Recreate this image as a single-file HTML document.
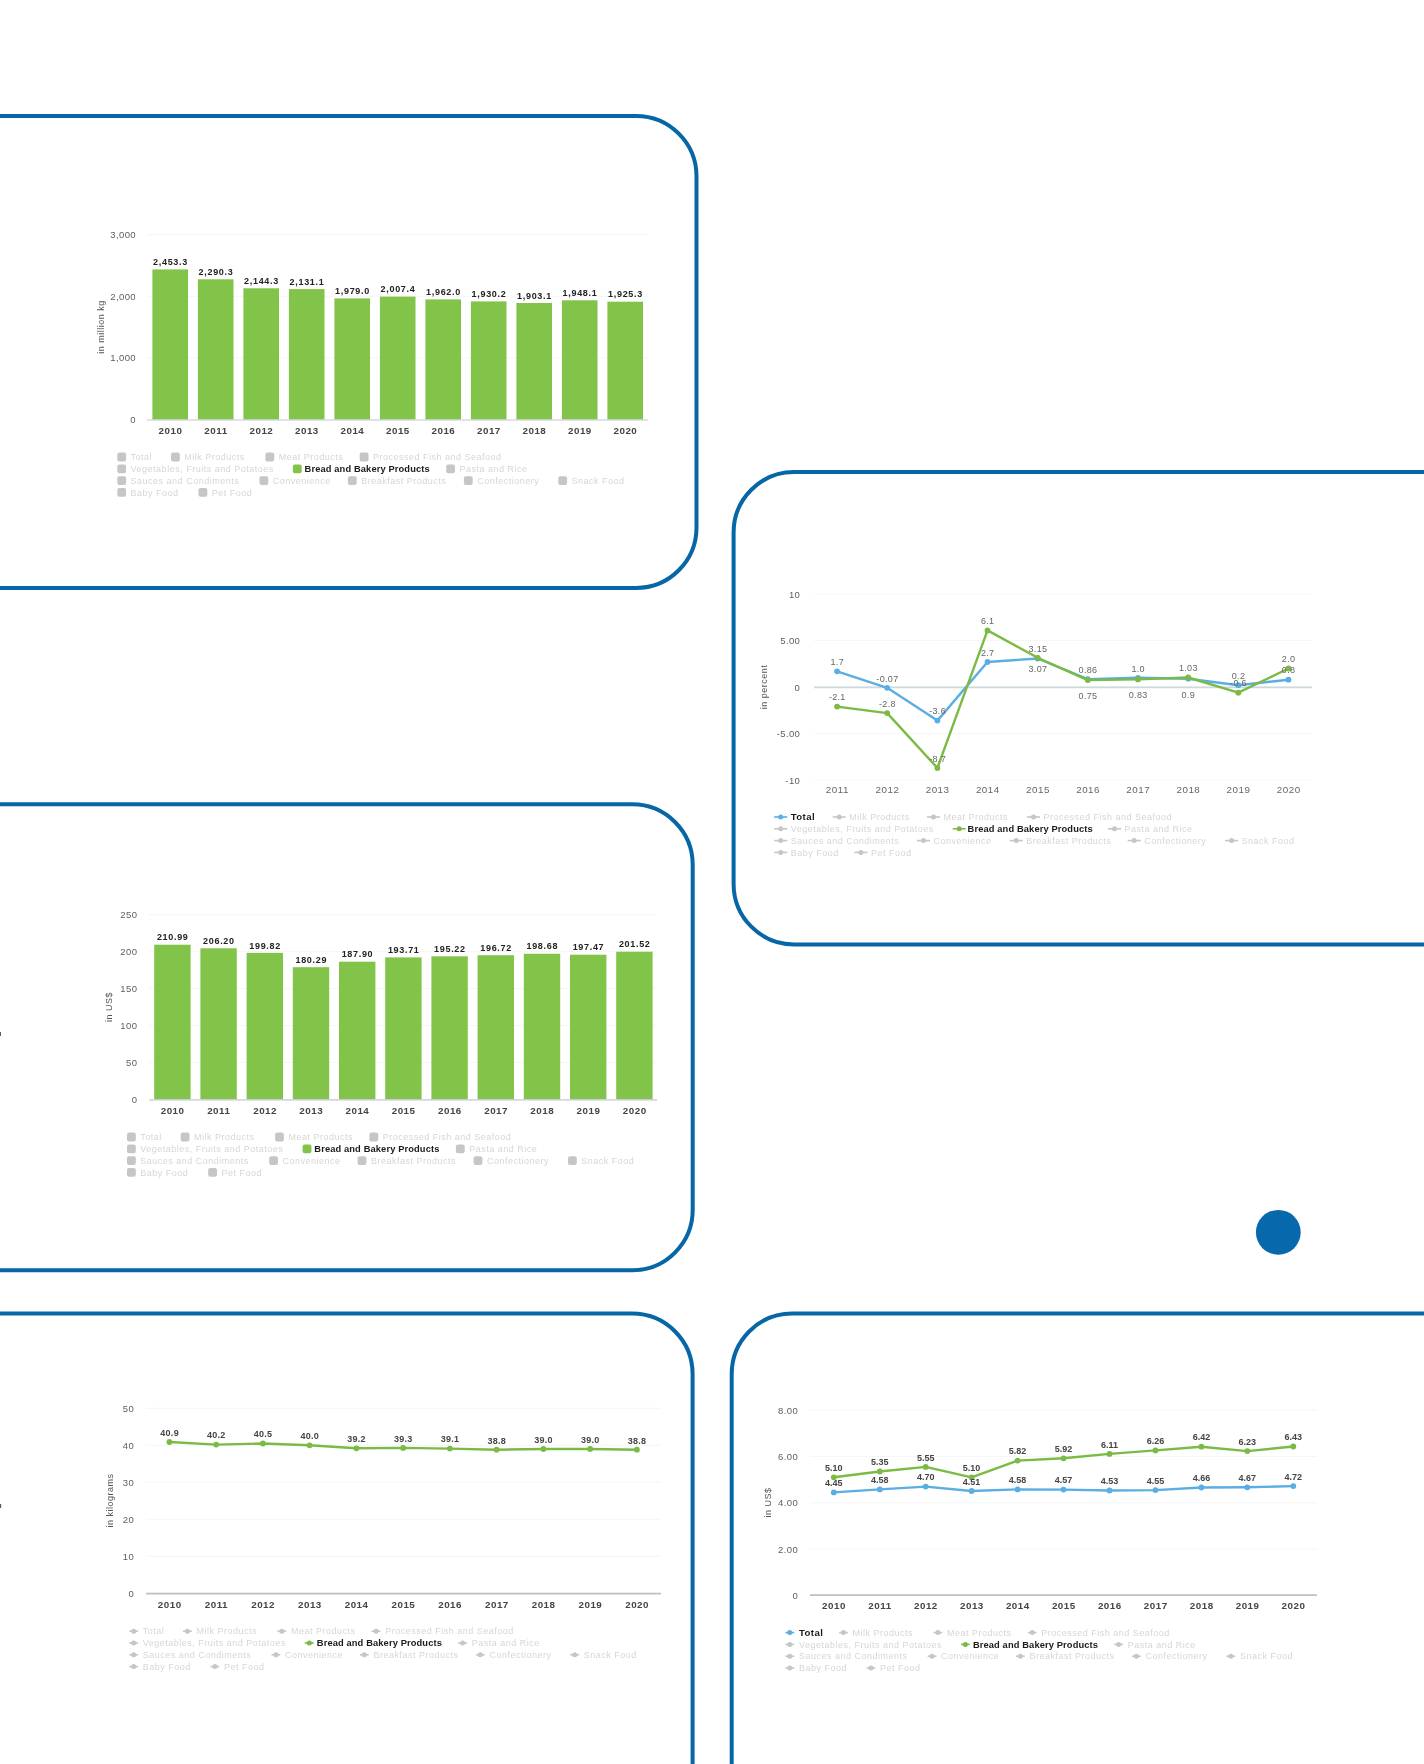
<!DOCTYPE html>
<html lang="en">
<head>
<meta charset="utf-8">
<title>Bread and Bakery Products – market charts</title>
<style>
html,body{margin:0;padding:0;background:#fff;}
body{width:1424px;height:1764px;overflow:hidden;}
svg{display:block;font-family:"Liberation Sans", Arial, sans-serif;}
</style>
</head>
<body>
<svg width="1424" height="1764" viewBox="0 0 1424 1764">
<defs><filter id="soft" x="-2%" y="-2%" width="104%" height="104%"><feGaussianBlur stdDeviation="0.6"/></filter></defs>
<rect width="1424" height="1764" fill="#ffffff"/>
<g id="frames">
<rect x="-200" y="115.9" width="896.5" height="472.1" rx="60.5" ry="60.5" fill="none" stroke="#0767A6" stroke-width="4.0"/>
<rect x="733.6" y="472.0" width="966.4" height="472.4" rx="60.5" ry="60.5" fill="none" stroke="#0767A6" stroke-width="4.0"/>
<rect x="-200" y="804.3" width="892.7" height="466.0" rx="60.5" ry="60.5" fill="none" stroke="#0767A6" stroke-width="4.0"/>
<rect x="-200" y="1313.5" width="892.6" height="686.5" rx="60.5" ry="60.5" fill="none" stroke="#0767A6" stroke-width="4.0"/>
<rect x="731.7" y="1313.5" width="968.3" height="686.5" rx="60.5" ry="60.5" fill="none" stroke="#0767A6" stroke-width="4.0"/>
<circle cx="1278.3" cy="1232.3" r="22.4" fill="#0768AC"/>
<rect x="0" y="1032" width="1" height="4" fill="#4f636b"/>
<rect x="0" y="1504" width="1.2" height="4" fill="#4f636b"/>
</g>
<g class="bar-chart" filter="url(#soft)">
<text x="136.0" y="422.9" font-size="9.5" fill="#5e5e5e" font-weight="normal" text-anchor="end" letter-spacing="0.4">0</text>
<line x1="147" y1="357.9" x2="648" y2="357.9" stroke="#f5f5f5" stroke-width="1"/>
<text x="136.0" y="361.3" font-size="9.5" fill="#5e5e5e" font-weight="normal" text-anchor="end" letter-spacing="0.4">1,000</text>
<line x1="147" y1="296.3" x2="648" y2="296.3" stroke="#f5f5f5" stroke-width="1"/>
<text x="136.0" y="299.7" font-size="9.5" fill="#5e5e5e" font-weight="normal" text-anchor="end" letter-spacing="0.4">2,000</text>
<line x1="147" y1="234.7" x2="648" y2="234.7" stroke="#f5f5f5" stroke-width="1"/>
<text x="136.0" y="238.1" font-size="9.5" fill="#5e5e5e" font-weight="normal" text-anchor="end" letter-spacing="0.4">3,000</text>
<text transform="translate(103.5 327.0) rotate(-90)" font-size="9" fill="#555" text-anchor="middle" letter-spacing="0.5">in million kg</text>
<rect x="152.4" y="269.4" width="35.6" height="150.1" fill="#82C448"/>
<text x="170.5" y="264.9" font-size="9" fill="#222" font-weight="bold" text-anchor="middle" letter-spacing="0.68">2,453.3</text>
<text x="170.5" y="434.1" font-size="9.8" fill="#444" font-weight="bold" text-anchor="middle" letter-spacing="0.5">2010</text>
<rect x="197.9" y="279.3" width="35.6" height="140.2" fill="#82C448"/>
<text x="216.0" y="274.9" font-size="9" fill="#222" font-weight="bold" text-anchor="middle" letter-spacing="0.68">2,290.3</text>
<text x="216.0" y="434.1" font-size="9.8" fill="#444" font-weight="bold" text-anchor="middle" letter-spacing="0.5">2011</text>
<rect x="243.4" y="288.3" width="35.6" height="131.2" fill="#82C448"/>
<text x="261.5" y="283.8" font-size="9" fill="#222" font-weight="bold" text-anchor="middle" letter-spacing="0.68">2,144.3</text>
<text x="261.4" y="434.1" font-size="9.8" fill="#444" font-weight="bold" text-anchor="middle" letter-spacing="0.5">2012</text>
<rect x="288.9" y="289.1" width="35.6" height="130.4" fill="#82C448"/>
<text x="307.0" y="284.6" font-size="9" fill="#222" font-weight="bold" text-anchor="middle" letter-spacing="0.68">2,131.1</text>
<text x="306.9" y="434.1" font-size="9.8" fill="#444" font-weight="bold" text-anchor="middle" letter-spacing="0.5">2013</text>
<rect x="334.4" y="298.4" width="35.6" height="121.1" fill="#82C448"/>
<text x="352.5" y="293.9" font-size="9" fill="#222" font-weight="bold" text-anchor="middle" letter-spacing="0.68">1,979.0</text>
<text x="352.4" y="434.1" font-size="9.8" fill="#444" font-weight="bold" text-anchor="middle" letter-spacing="0.5">2014</text>
<rect x="379.9" y="296.6" width="35.6" height="122.9" fill="#82C448"/>
<text x="398.0" y="292.2" font-size="9" fill="#222" font-weight="bold" text-anchor="middle" letter-spacing="0.68">2,007.4</text>
<text x="397.9" y="434.1" font-size="9.8" fill="#444" font-weight="bold" text-anchor="middle" letter-spacing="0.5">2015</text>
<rect x="425.4" y="299.4" width="35.6" height="120.1" fill="#82C448"/>
<text x="443.5" y="294.9" font-size="9" fill="#222" font-weight="bold" text-anchor="middle" letter-spacing="0.68">1,962.0</text>
<text x="443.4" y="434.1" font-size="9.8" fill="#444" font-weight="bold" text-anchor="middle" letter-spacing="0.5">2016</text>
<rect x="470.9" y="301.4" width="35.6" height="118.1" fill="#82C448"/>
<text x="489.0" y="296.9" font-size="9" fill="#222" font-weight="bold" text-anchor="middle" letter-spacing="0.68">1,930.2</text>
<text x="488.9" y="434.1" font-size="9.8" fill="#444" font-weight="bold" text-anchor="middle" letter-spacing="0.5">2017</text>
<rect x="516.4" y="303.0" width="35.6" height="116.5" fill="#82C448"/>
<text x="534.5" y="298.6" font-size="9" fill="#222" font-weight="bold" text-anchor="middle" letter-spacing="0.68">1,903.1</text>
<text x="534.4" y="434.1" font-size="9.8" fill="#444" font-weight="bold" text-anchor="middle" letter-spacing="0.5">2018</text>
<rect x="561.9" y="300.3" width="35.6" height="119.2" fill="#82C448"/>
<text x="580.0" y="295.8" font-size="9" fill="#222" font-weight="bold" text-anchor="middle" letter-spacing="0.68">1,948.1</text>
<text x="579.9" y="434.1" font-size="9.8" fill="#444" font-weight="bold" text-anchor="middle" letter-spacing="0.5">2019</text>
<rect x="607.4" y="301.7" width="35.6" height="117.8" fill="#82C448"/>
<text x="625.5" y="297.2" font-size="9" fill="#222" font-weight="bold" text-anchor="middle" letter-spacing="0.68">1,925.3</text>
<text x="625.4" y="434.1" font-size="9.8" fill="#444" font-weight="bold" text-anchor="middle" letter-spacing="0.5">2020</text>
<line x1="147" y1="420.0" x2="648" y2="420.0" stroke="#c4c6d4" stroke-width="1.2"/>
<g class="legend">
<rect x="117.3" y="452.6" width="8.8" height="8.8" rx="2" fill="#c6c6c6"/>
<text x="130.6" y="460.2" font-size="9" fill="#d6d6d6" font-weight="normal" text-anchor="start" letter-spacing="0.5">Total</text>
<rect x="171.0" y="452.6" width="8.8" height="8.8" rx="2" fill="#c6c6c6"/>
<text x="184.3" y="460.2" font-size="9" fill="#d6d6d6" font-weight="normal" text-anchor="start" letter-spacing="0.5">Milk Products</text>
<rect x="265.4" y="452.6" width="8.8" height="8.8" rx="2" fill="#c6c6c6"/>
<text x="278.7" y="460.2" font-size="9" fill="#d6d6d6" font-weight="normal" text-anchor="start" letter-spacing="0.5">Meat Products</text>
<rect x="359.7" y="452.6" width="8.8" height="8.8" rx="2" fill="#c6c6c6"/>
<text x="373.0" y="460.2" font-size="9" fill="#d6d6d6" font-weight="normal" text-anchor="start" letter-spacing="0.5">Processed Fish and Seafood</text>
<rect x="117.3" y="464.4" width="8.8" height="8.8" rx="2" fill="#c6c6c6"/>
<text x="130.6" y="472.0" font-size="9" fill="#d6d6d6" font-weight="normal" text-anchor="start" letter-spacing="0.5">Vegetables, Fruits and Potatoes</text>
<rect x="292.9" y="464.4" width="8.8" height="8.8" rx="2" fill="#82C448"/>
<text x="304.6" y="472.1" font-size="9.3" fill="#1a1a1a" font-weight="bold" text-anchor="start" letter-spacing="0.13">Bread and Bakery Products</text>
<rect x="446.2" y="464.4" width="8.8" height="8.8" rx="2" fill="#c6c6c6"/>
<text x="459.5" y="472.0" font-size="9" fill="#d6d6d6" font-weight="normal" text-anchor="start" letter-spacing="0.5">Pasta and Rice</text>
<rect x="117.3" y="476.2" width="8.8" height="8.8" rx="2" fill="#c6c6c6"/>
<text x="130.6" y="483.8" font-size="9" fill="#d6d6d6" font-weight="normal" text-anchor="start" letter-spacing="0.5">Sauces and Condiments</text>
<rect x="259.5" y="476.2" width="8.8" height="8.8" rx="2" fill="#c6c6c6"/>
<text x="272.8" y="483.8" font-size="9" fill="#d6d6d6" font-weight="normal" text-anchor="start" letter-spacing="0.5">Convenience</text>
<rect x="347.9" y="476.2" width="8.8" height="8.8" rx="2" fill="#c6c6c6"/>
<text x="361.2" y="483.8" font-size="9" fill="#d6d6d6" font-weight="normal" text-anchor="start" letter-spacing="0.5">Breakfast Products</text>
<rect x="463.9" y="476.2" width="8.8" height="8.8" rx="2" fill="#c6c6c6"/>
<text x="477.2" y="483.8" font-size="9" fill="#d6d6d6" font-weight="normal" text-anchor="start" letter-spacing="0.5">Confectionery</text>
<rect x="558.3" y="476.2" width="8.8" height="8.8" rx="2" fill="#c6c6c6"/>
<text x="571.6" y="483.8" font-size="9" fill="#d6d6d6" font-weight="normal" text-anchor="start" letter-spacing="0.5">Snack Food</text>
<rect x="117.3" y="488.0" width="8.8" height="8.8" rx="2" fill="#c6c6c6"/>
<text x="130.6" y="495.6" font-size="9" fill="#d6d6d6" font-weight="normal" text-anchor="start" letter-spacing="0.5">Baby Food</text>
<rect x="198.5" y="488.0" width="8.8" height="8.8" rx="2" fill="#c6c6c6"/>
<text x="211.8" y="495.6" font-size="9" fill="#d6d6d6" font-weight="normal" text-anchor="start" letter-spacing="0.5">Pet Food</text>
</g>
</g>
<g class="bar-chart" filter="url(#soft)">
<text x="137.4" y="1102.7" font-size="9.5" fill="#5e5e5e" font-weight="normal" text-anchor="end" letter-spacing="0.4">0</text>
<line x1="149" y1="1062.4" x2="657" y2="1062.4" stroke="#f5f5f5" stroke-width="1"/>
<text x="137.4" y="1065.8" font-size="9.5" fill="#5e5e5e" font-weight="normal" text-anchor="end" letter-spacing="0.4">50</text>
<line x1="149" y1="1025.5" x2="657" y2="1025.5" stroke="#f5f5f5" stroke-width="1"/>
<text x="137.4" y="1028.9" font-size="9.5" fill="#5e5e5e" font-weight="normal" text-anchor="end" letter-spacing="0.4">100</text>
<line x1="149" y1="988.6" x2="657" y2="988.6" stroke="#f5f5f5" stroke-width="1"/>
<text x="137.4" y="992.0" font-size="9.5" fill="#5e5e5e" font-weight="normal" text-anchor="end" letter-spacing="0.4">150</text>
<line x1="149" y1="951.7" x2="657" y2="951.7" stroke="#f5f5f5" stroke-width="1"/>
<text x="137.4" y="955.1" font-size="9.5" fill="#5e5e5e" font-weight="normal" text-anchor="end" letter-spacing="0.4">200</text>
<line x1="149" y1="914.8" x2="657" y2="914.8" stroke="#f5f5f5" stroke-width="1"/>
<text x="137.4" y="918.2" font-size="9.5" fill="#5e5e5e" font-weight="normal" text-anchor="end" letter-spacing="0.4">250</text>
<text transform="translate(111.5 1007.0) rotate(-90)" font-size="9" fill="#555" text-anchor="middle" letter-spacing="0.5">in US$</text>
<rect x="154.2" y="944.7" width="36.4" height="154.6" fill="#82C448"/>
<text x="172.7" y="940.3" font-size="9" fill="#222" font-weight="bold" text-anchor="middle" letter-spacing="0.68">210.99</text>
<text x="172.6" y="1113.6" font-size="9.8" fill="#444" font-weight="bold" text-anchor="middle" letter-spacing="0.5">2010</text>
<rect x="200.4" y="948.3" width="36.4" height="151.0" fill="#82C448"/>
<text x="218.9" y="943.8" font-size="9" fill="#222" font-weight="bold" text-anchor="middle" letter-spacing="0.68">206.20</text>
<text x="218.8" y="1113.6" font-size="9.8" fill="#444" font-weight="bold" text-anchor="middle" letter-spacing="0.5">2011</text>
<rect x="246.6" y="952.9" width="36.4" height="146.4" fill="#82C448"/>
<text x="265.1" y="948.5" font-size="9" fill="#222" font-weight="bold" text-anchor="middle" letter-spacing="0.68">199.82</text>
<text x="265.1" y="1113.6" font-size="9.8" fill="#444" font-weight="bold" text-anchor="middle" letter-spacing="0.5">2012</text>
<rect x="292.8" y="967.2" width="36.4" height="132.1" fill="#82C448"/>
<text x="311.3" y="962.8" font-size="9" fill="#222" font-weight="bold" text-anchor="middle" letter-spacing="0.68">180.29</text>
<text x="311.2" y="1113.6" font-size="9.8" fill="#444" font-weight="bold" text-anchor="middle" letter-spacing="0.5">2013</text>
<rect x="339.0" y="961.7" width="36.4" height="137.6" fill="#82C448"/>
<text x="357.5" y="957.2" font-size="9" fill="#222" font-weight="bold" text-anchor="middle" letter-spacing="0.68">187.90</text>
<text x="357.4" y="1113.6" font-size="9.8" fill="#444" font-weight="bold" text-anchor="middle" letter-spacing="0.5">2014</text>
<rect x="385.2" y="957.4" width="36.4" height="141.9" fill="#82C448"/>
<text x="403.7" y="952.9" font-size="9" fill="#222" font-weight="bold" text-anchor="middle" letter-spacing="0.68">193.71</text>
<text x="403.6" y="1113.6" font-size="9.8" fill="#444" font-weight="bold" text-anchor="middle" letter-spacing="0.5">2015</text>
<rect x="431.4" y="956.3" width="36.4" height="143.0" fill="#82C448"/>
<text x="449.9" y="951.8" font-size="9" fill="#222" font-weight="bold" text-anchor="middle" letter-spacing="0.68">195.22</text>
<text x="449.9" y="1113.6" font-size="9.8" fill="#444" font-weight="bold" text-anchor="middle" letter-spacing="0.5">2016</text>
<rect x="477.6" y="955.2" width="36.4" height="144.1" fill="#82C448"/>
<text x="496.1" y="950.7" font-size="9" fill="#222" font-weight="bold" text-anchor="middle" letter-spacing="0.68">196.72</text>
<text x="496.1" y="1113.6" font-size="9.8" fill="#444" font-weight="bold" text-anchor="middle" letter-spacing="0.5">2017</text>
<rect x="523.8" y="953.8" width="36.4" height="145.5" fill="#82C448"/>
<text x="542.3" y="949.3" font-size="9" fill="#222" font-weight="bold" text-anchor="middle" letter-spacing="0.68">198.68</text>
<text x="542.2" y="1113.6" font-size="9.8" fill="#444" font-weight="bold" text-anchor="middle" letter-spacing="0.5">2018</text>
<rect x="570.0" y="954.7" width="36.4" height="144.6" fill="#82C448"/>
<text x="588.5" y="950.2" font-size="9" fill="#222" font-weight="bold" text-anchor="middle" letter-spacing="0.68">197.47</text>
<text x="588.5" y="1113.6" font-size="9.8" fill="#444" font-weight="bold" text-anchor="middle" letter-spacing="0.5">2019</text>
<rect x="616.2" y="951.7" width="36.4" height="147.6" fill="#82C448"/>
<text x="634.7" y="947.2" font-size="9" fill="#222" font-weight="bold" text-anchor="middle" letter-spacing="0.68">201.52</text>
<text x="634.7" y="1113.6" font-size="9.8" fill="#444" font-weight="bold" text-anchor="middle" letter-spacing="0.5">2020</text>
<line x1="149" y1="1099.8" x2="657" y2="1099.8" stroke="#c4c6d4" stroke-width="1.2"/>
<g class="legend">
<rect x="127.0" y="1132.6" width="8.8" height="8.8" rx="2" fill="#c6c6c6"/>
<text x="140.3" y="1140.2" font-size="9" fill="#d6d6d6" font-weight="normal" text-anchor="start" letter-spacing="0.5">Total</text>
<rect x="180.7" y="1132.6" width="8.8" height="8.8" rx="2" fill="#c6c6c6"/>
<text x="194.0" y="1140.2" font-size="9" fill="#d6d6d6" font-weight="normal" text-anchor="start" letter-spacing="0.5">Milk Products</text>
<rect x="275.1" y="1132.6" width="8.8" height="8.8" rx="2" fill="#c6c6c6"/>
<text x="288.4" y="1140.2" font-size="9" fill="#d6d6d6" font-weight="normal" text-anchor="start" letter-spacing="0.5">Meat Products</text>
<rect x="369.4" y="1132.6" width="8.8" height="8.8" rx="2" fill="#c6c6c6"/>
<text x="382.7" y="1140.2" font-size="9" fill="#d6d6d6" font-weight="normal" text-anchor="start" letter-spacing="0.5">Processed Fish and Seafood</text>
<rect x="127.0" y="1144.4" width="8.8" height="8.8" rx="2" fill="#c6c6c6"/>
<text x="140.3" y="1152.0" font-size="9" fill="#d6d6d6" font-weight="normal" text-anchor="start" letter-spacing="0.5">Vegetables, Fruits and Potatoes</text>
<rect x="302.6" y="1144.4" width="8.8" height="8.8" rx="2" fill="#82C448"/>
<text x="314.3" y="1152.1" font-size="9.3" fill="#1a1a1a" font-weight="bold" text-anchor="start" letter-spacing="0.13">Bread and Bakery Products</text>
<rect x="455.9" y="1144.4" width="8.8" height="8.8" rx="2" fill="#c6c6c6"/>
<text x="469.2" y="1152.0" font-size="9" fill="#d6d6d6" font-weight="normal" text-anchor="start" letter-spacing="0.5">Pasta and Rice</text>
<rect x="127.0" y="1156.2" width="8.8" height="8.8" rx="2" fill="#c6c6c6"/>
<text x="140.3" y="1163.8" font-size="9" fill="#d6d6d6" font-weight="normal" text-anchor="start" letter-spacing="0.5">Sauces and Condiments</text>
<rect x="269.2" y="1156.2" width="8.8" height="8.8" rx="2" fill="#c6c6c6"/>
<text x="282.5" y="1163.8" font-size="9" fill="#d6d6d6" font-weight="normal" text-anchor="start" letter-spacing="0.5">Convenience</text>
<rect x="357.6" y="1156.2" width="8.8" height="8.8" rx="2" fill="#c6c6c6"/>
<text x="370.9" y="1163.8" font-size="9" fill="#d6d6d6" font-weight="normal" text-anchor="start" letter-spacing="0.5">Breakfast Products</text>
<rect x="473.6" y="1156.2" width="8.8" height="8.8" rx="2" fill="#c6c6c6"/>
<text x="486.9" y="1163.8" font-size="9" fill="#d6d6d6" font-weight="normal" text-anchor="start" letter-spacing="0.5">Confectionery</text>
<rect x="568.0" y="1156.2" width="8.8" height="8.8" rx="2" fill="#c6c6c6"/>
<text x="581.3" y="1163.8" font-size="9" fill="#d6d6d6" font-weight="normal" text-anchor="start" letter-spacing="0.5">Snack Food</text>
<rect x="127.0" y="1168.0" width="8.8" height="8.8" rx="2" fill="#c6c6c6"/>
<text x="140.3" y="1175.6" font-size="9" fill="#d6d6d6" font-weight="normal" text-anchor="start" letter-spacing="0.5">Baby Food</text>
<rect x="208.2" y="1168.0" width="8.8" height="8.8" rx="2" fill="#c6c6c6"/>
<text x="221.5" y="1175.6" font-size="9" fill="#d6d6d6" font-weight="normal" text-anchor="start" letter-spacing="0.5">Pet Food</text>
</g>
</g>
<g class="line-chart" filter="url(#soft)">
<line x1="814" y1="594.1" x2="1312" y2="594.1" stroke="#f6f6f6" stroke-width="1"/>
<text x="800.3" y="597.5" font-size="9.5" fill="#5e5e5e" font-weight="normal" text-anchor="end" letter-spacing="0.4">10</text>
<line x1="814" y1="640.6" x2="1312" y2="640.6" stroke="#f6f6f6" stroke-width="1"/>
<text x="800.3" y="644.0" font-size="9.5" fill="#5e5e5e" font-weight="normal" text-anchor="end" letter-spacing="0.4">5.00</text>
<line x1="814" y1="687.1" x2="1312" y2="687.1" stroke="#f6f6f6" stroke-width="1"/>
<text x="800.3" y="690.5" font-size="9.5" fill="#5e5e5e" font-weight="normal" text-anchor="end" letter-spacing="0.4">0</text>
<line x1="814" y1="733.6" x2="1312" y2="733.6" stroke="#f6f6f6" stroke-width="1"/>
<text x="800.3" y="737.0" font-size="9.5" fill="#5e5e5e" font-weight="normal" text-anchor="end" letter-spacing="0.4">-5.00</text>
<line x1="814" y1="780.1" x2="1312" y2="780.1" stroke="#f6f6f6" stroke-width="1"/>
<text x="800.3" y="783.5" font-size="9.5" fill="#5e5e5e" font-weight="normal" text-anchor="end" letter-spacing="0.4">-10</text>
<text transform="translate(766.5 687.0) rotate(-90)" font-size="9" fill="#555" text-anchor="middle" letter-spacing="0.5">in percent</text>
<line x1="814" y1="687.3" x2="1312" y2="687.3" stroke="#cdd9dd" stroke-width="1.8"/>
<text x="837.4" y="793.4" font-size="9.8" fill="#666" font-weight="normal" text-anchor="middle" letter-spacing="0.5">2011</text>
<text x="887.5" y="793.4" font-size="9.8" fill="#666" font-weight="normal" text-anchor="middle" letter-spacing="0.5">2012</text>
<text x="937.6" y="793.4" font-size="9.8" fill="#666" font-weight="normal" text-anchor="middle" letter-spacing="0.5">2013</text>
<text x="987.8" y="793.4" font-size="9.8" fill="#666" font-weight="normal" text-anchor="middle" letter-spacing="0.5">2014</text>
<text x="1038.0" y="793.4" font-size="9.8" fill="#666" font-weight="normal" text-anchor="middle" letter-spacing="0.5">2015</text>
<text x="1088.1" y="793.4" font-size="9.8" fill="#666" font-weight="normal" text-anchor="middle" letter-spacing="0.5">2016</text>
<text x="1138.2" y="793.4" font-size="9.8" fill="#666" font-weight="normal" text-anchor="middle" letter-spacing="0.5">2017</text>
<text x="1188.4" y="793.4" font-size="9.8" fill="#666" font-weight="normal" text-anchor="middle" letter-spacing="0.5">2018</text>
<text x="1238.5" y="793.4" font-size="9.8" fill="#666" font-weight="normal" text-anchor="middle" letter-spacing="0.5">2019</text>
<text x="1288.7" y="793.4" font-size="9.8" fill="#666" font-weight="normal" text-anchor="middle" letter-spacing="0.5">2020</text>
<polyline points="837.1,671.3 887.2,687.8 937.4,720.6 987.5,662.0 1037.7,658.5 1087.8,679.1 1138.0,677.8 1188.2,678.7 1238.3,685.2 1288.5,679.7" fill="none" stroke="#5AAEE2" stroke-width="2.4" stroke-linejoin="round" stroke-linecap="round"/>
<circle cx="837.1" cy="671.3" r="2.9" fill="#5AAEE2"/>
<circle cx="887.2" cy="687.8" r="2.9" fill="#5AAEE2"/>
<circle cx="937.4" cy="720.6" r="2.9" fill="#5AAEE2"/>
<circle cx="987.5" cy="662.0" r="2.9" fill="#5AAEE2"/>
<circle cx="1037.7" cy="658.5" r="2.9" fill="#5AAEE2"/>
<circle cx="1087.8" cy="679.1" r="2.9" fill="#5AAEE2"/>
<circle cx="1138.0" cy="677.8" r="2.9" fill="#5AAEE2"/>
<circle cx="1188.2" cy="678.7" r="2.9" fill="#5AAEE2"/>
<circle cx="1238.3" cy="685.2" r="2.9" fill="#5AAEE2"/>
<circle cx="1288.5" cy="679.7" r="2.9" fill="#5AAEE2"/>
<polyline points="837.1,706.6 887.2,713.1 937.4,768.0 987.5,630.4 1037.7,657.8 1087.8,680.1 1138.0,679.4 1188.2,677.5 1238.3,692.7 1288.5,668.5" fill="none" stroke="#7ABA45" stroke-width="2.4" stroke-linejoin="round" stroke-linecap="round"/>
<circle cx="837.1" cy="706.6" r="2.9" fill="#7ABA45"/>
<circle cx="887.2" cy="713.1" r="2.9" fill="#7ABA45"/>
<circle cx="937.4" cy="768.0" r="2.9" fill="#7ABA45"/>
<circle cx="987.5" cy="630.4" r="2.9" fill="#7ABA45"/>
<circle cx="1037.7" cy="657.8" r="2.9" fill="#7ABA45"/>
<circle cx="1087.8" cy="680.1" r="2.9" fill="#7ABA45"/>
<circle cx="1138.0" cy="679.4" r="2.9" fill="#7ABA45"/>
<circle cx="1188.2" cy="677.5" r="2.9" fill="#7ABA45"/>
<circle cx="1238.3" cy="692.7" r="2.9" fill="#7ABA45"/>
<circle cx="1288.5" cy="668.5" r="2.9" fill="#7ABA45"/>
<text x="837.3" y="665.0" font-size="9" fill="#666" font-weight="normal" text-anchor="middle" letter-spacing="0.33">1.7</text>
<text x="887.4" y="681.5" font-size="9" fill="#666" font-weight="normal" text-anchor="middle" letter-spacing="0.33">-0.07</text>
<text x="937.6" y="714.3" font-size="9" fill="#666" font-weight="normal" text-anchor="middle" letter-spacing="0.33">-3.6</text>
<text x="987.7" y="655.7" font-size="9" fill="#666" font-weight="normal" text-anchor="middle" letter-spacing="0.33">2.7</text>
<text x="1037.9" y="672.3" font-size="9" fill="#666" font-weight="normal" text-anchor="middle" letter-spacing="0.33">3.07</text>
<text x="1088.0" y="672.8" font-size="9" fill="#666" font-weight="normal" text-anchor="middle" letter-spacing="0.33">0.86</text>
<text x="1138.2" y="671.5" font-size="9" fill="#666" font-weight="normal" text-anchor="middle" letter-spacing="0.33">1.0</text>
<text x="1188.3" y="697.5" font-size="9" fill="#666" font-weight="normal" text-anchor="middle" letter-spacing="0.33">0.9</text>
<text x="1238.5" y="679.0" font-size="9" fill="#666" font-weight="normal" text-anchor="middle" letter-spacing="0.33">0.2</text>
<text x="1288.6" y="673.4" font-size="9" fill="#666" font-weight="normal" text-anchor="middle" letter-spacing="0.33">0.8</text>
<text x="837.3" y="700.4" font-size="9" fill="#666" font-weight="normal" text-anchor="middle" letter-spacing="0.33">-2.1</text>
<text x="887.4" y="706.9" font-size="9" fill="#666" font-weight="normal" text-anchor="middle" letter-spacing="0.33">-2.8</text>
<text x="937.6" y="761.7" font-size="9" fill="#666" font-weight="normal" text-anchor="middle" letter-spacing="0.33">-8.7</text>
<text x="987.7" y="624.1" font-size="9" fill="#666" font-weight="normal" text-anchor="middle" letter-spacing="0.33">6.1</text>
<text x="1037.9" y="651.5" font-size="9" fill="#666" font-weight="normal" text-anchor="middle" letter-spacing="0.33">3.15</text>
<text x="1088.0" y="698.8" font-size="9" fill="#666" font-weight="normal" text-anchor="middle" letter-spacing="0.33">0.75</text>
<text x="1138.2" y="698.1" font-size="9" fill="#666" font-weight="normal" text-anchor="middle" letter-spacing="0.33">0.83</text>
<text x="1188.3" y="671.2" font-size="9" fill="#666" font-weight="normal" text-anchor="middle" letter-spacing="0.33">1.03</text>
<text x="1238.5" y="686.4" font-size="9" fill="#666" font-weight="normal" text-anchor="middle" letter-spacing="0.33">-0.6</text>
<text x="1288.6" y="662.2" font-size="9" fill="#666" font-weight="normal" text-anchor="middle" letter-spacing="0.33">2.0</text>
<g class="legend">
<line x1="774.2" y1="817.0" x2="787.2" y2="817.0" stroke="#5AAEE2" stroke-width="1.6"/>
<circle cx="780.7" cy="817.0" r="2.5" fill="#5AAEE2"/>
<text x="790.7" y="820.4" font-size="9.6" fill="#1a1a1a" font-weight="bold" text-anchor="start" letter-spacing="0.45">Total</text>
<line x1="832.7" y1="817.0" x2="845.7" y2="817.0" stroke="#c6c6c6" stroke-width="1.6"/>
<circle cx="839.2" cy="817.0" r="2.5" fill="#c6c6c6"/>
<text x="849.2" y="820.2" font-size="9" fill="#d6d6d6" font-weight="normal" text-anchor="start" letter-spacing="0.5">Milk Products</text>
<line x1="927.0" y1="817.0" x2="940.0" y2="817.0" stroke="#c6c6c6" stroke-width="1.6"/>
<circle cx="933.5" cy="817.0" r="2.5" fill="#c6c6c6"/>
<text x="943.5" y="820.2" font-size="9" fill="#d6d6d6" font-weight="normal" text-anchor="start" letter-spacing="0.5">Meat Products</text>
<line x1="1027.0" y1="817.0" x2="1040.0" y2="817.0" stroke="#c6c6c6" stroke-width="1.6"/>
<circle cx="1033.5" cy="817.0" r="2.5" fill="#c6c6c6"/>
<text x="1043.5" y="820.2" font-size="9" fill="#d6d6d6" font-weight="normal" text-anchor="start" letter-spacing="0.5">Processed Fish and Seafood</text>
<line x1="774.2" y1="828.8" x2="787.2" y2="828.8" stroke="#c6c6c6" stroke-width="1.6"/>
<circle cx="780.7" cy="828.8" r="2.5" fill="#c6c6c6"/>
<text x="790.7" y="832.0" font-size="9" fill="#d6d6d6" font-weight="normal" text-anchor="start" letter-spacing="0.5">Vegetables, Fruits and Potatoes</text>
<line x1="952.7" y1="828.8" x2="965.7" y2="828.8" stroke="#7ABA45" stroke-width="1.6"/>
<circle cx="959.2" cy="828.8" r="2.5" fill="#7ABA45"/>
<text x="967.6" y="832.1" font-size="9.3" fill="#1a1a1a" font-weight="bold" text-anchor="start" letter-spacing="0.13">Bread and Bakery Products</text>
<line x1="1108.0" y1="828.8" x2="1121.0" y2="828.8" stroke="#c6c6c6" stroke-width="1.6"/>
<circle cx="1114.5" cy="828.8" r="2.5" fill="#c6c6c6"/>
<text x="1124.5" y="832.0" font-size="9" fill="#d6d6d6" font-weight="normal" text-anchor="start" letter-spacing="0.5">Pasta and Rice</text>
<line x1="774.2" y1="840.6" x2="787.2" y2="840.6" stroke="#c6c6c6" stroke-width="1.6"/>
<circle cx="780.7" cy="840.6" r="2.5" fill="#c6c6c6"/>
<text x="790.7" y="843.8" font-size="9" fill="#d6d6d6" font-weight="normal" text-anchor="start" letter-spacing="0.5">Sauces and Condiments</text>
<line x1="917.0" y1="840.6" x2="930.0" y2="840.6" stroke="#c6c6c6" stroke-width="1.6"/>
<circle cx="923.5" cy="840.6" r="2.5" fill="#c6c6c6"/>
<text x="933.5" y="843.8" font-size="9" fill="#d6d6d6" font-weight="normal" text-anchor="start" letter-spacing="0.5">Convenience</text>
<line x1="1009.7" y1="840.6" x2="1022.7" y2="840.6" stroke="#c6c6c6" stroke-width="1.6"/>
<circle cx="1016.2" cy="840.6" r="2.5" fill="#c6c6c6"/>
<text x="1026.2" y="843.8" font-size="9" fill="#d6d6d6" font-weight="normal" text-anchor="start" letter-spacing="0.5">Breakfast Products</text>
<line x1="1127.7" y1="840.6" x2="1140.7" y2="840.6" stroke="#c6c6c6" stroke-width="1.6"/>
<circle cx="1134.2" cy="840.6" r="2.5" fill="#c6c6c6"/>
<text x="1144.2" y="843.8" font-size="9" fill="#d6d6d6" font-weight="normal" text-anchor="start" letter-spacing="0.5">Confectionery</text>
<line x1="1225.0" y1="840.6" x2="1238.0" y2="840.6" stroke="#c6c6c6" stroke-width="1.6"/>
<circle cx="1231.5" cy="840.6" r="2.5" fill="#c6c6c6"/>
<text x="1241.5" y="843.8" font-size="9" fill="#d6d6d6" font-weight="normal" text-anchor="start" letter-spacing="0.5">Snack Food</text>
<line x1="774.2" y1="852.4" x2="787.2" y2="852.4" stroke="#c6c6c6" stroke-width="1.6"/>
<circle cx="780.7" cy="852.4" r="2.5" fill="#c6c6c6"/>
<text x="790.7" y="855.6" font-size="9" fill="#d6d6d6" font-weight="normal" text-anchor="start" letter-spacing="0.5">Baby Food</text>
<line x1="854.4" y1="852.4" x2="867.4" y2="852.4" stroke="#c6c6c6" stroke-width="1.6"/>
<circle cx="860.9" cy="852.4" r="2.5" fill="#c6c6c6"/>
<text x="870.9" y="855.6" font-size="9" fill="#d6d6d6" font-weight="normal" text-anchor="start" letter-spacing="0.5">Pet Food</text>
</g>
</g>
<g class="line-chart" filter="url(#soft)">
<line x1="146" y1="1408.3" x2="661" y2="1408.3" stroke="#f6f6f6" stroke-width="1"/>
<text x="134.2" y="1411.7" font-size="9.5" fill="#5e5e5e" font-weight="normal" text-anchor="end" letter-spacing="0.4">50</text>
<line x1="146" y1="1445.3" x2="661" y2="1445.3" stroke="#f6f6f6" stroke-width="1"/>
<text x="134.2" y="1448.7" font-size="9.5" fill="#5e5e5e" font-weight="normal" text-anchor="end" letter-spacing="0.4">40</text>
<line x1="146" y1="1482.3" x2="661" y2="1482.3" stroke="#f6f6f6" stroke-width="1"/>
<text x="134.2" y="1485.7" font-size="9.5" fill="#5e5e5e" font-weight="normal" text-anchor="end" letter-spacing="0.4">30</text>
<line x1="146" y1="1519.3" x2="661" y2="1519.3" stroke="#f6f6f6" stroke-width="1"/>
<text x="134.2" y="1522.7" font-size="9.5" fill="#5e5e5e" font-weight="normal" text-anchor="end" letter-spacing="0.4">20</text>
<line x1="146" y1="1556.3" x2="661" y2="1556.3" stroke="#f6f6f6" stroke-width="1"/>
<text x="134.2" y="1559.7" font-size="9.5" fill="#5e5e5e" font-weight="normal" text-anchor="end" letter-spacing="0.4">10</text>
<line x1="146" y1="1593.3" x2="661" y2="1593.3" stroke="#f6f6f6" stroke-width="1"/>
<text x="134.2" y="1596.7" font-size="9.5" fill="#5e5e5e" font-weight="normal" text-anchor="end" letter-spacing="0.4">0</text>
<text transform="translate(112.5 1500.5) rotate(-90)" font-size="9" fill="#555" text-anchor="middle" letter-spacing="0.5">in kilograms</text>
<line x1="146" y1="1593.7" x2="661" y2="1593.7" stroke="#b9c2c6" stroke-width="1.8"/>
<text x="169.7" y="1608.0" font-size="9.8" fill="#444" font-weight="bold" text-anchor="middle" letter-spacing="0.5">2010</text>
<text x="216.4" y="1608.0" font-size="9.8" fill="#444" font-weight="bold" text-anchor="middle" letter-spacing="0.5">2011</text>
<text x="263.1" y="1608.0" font-size="9.8" fill="#444" font-weight="bold" text-anchor="middle" letter-spacing="0.5">2012</text>
<text x="309.9" y="1608.0" font-size="9.8" fill="#444" font-weight="bold" text-anchor="middle" letter-spacing="0.5">2013</text>
<text x="356.6" y="1608.0" font-size="9.8" fill="#444" font-weight="bold" text-anchor="middle" letter-spacing="0.5">2014</text>
<text x="403.4" y="1608.0" font-size="9.8" fill="#444" font-weight="bold" text-anchor="middle" letter-spacing="0.5">2015</text>
<text x="450.1" y="1608.0" font-size="9.8" fill="#444" font-weight="bold" text-anchor="middle" letter-spacing="0.5">2016</text>
<text x="496.9" y="1608.0" font-size="9.8" fill="#444" font-weight="bold" text-anchor="middle" letter-spacing="0.5">2017</text>
<text x="543.6" y="1608.0" font-size="9.8" fill="#444" font-weight="bold" text-anchor="middle" letter-spacing="0.5">2018</text>
<text x="590.4" y="1608.0" font-size="9.8" fill="#444" font-weight="bold" text-anchor="middle" letter-spacing="0.5">2019</text>
<text x="637.1" y="1608.0" font-size="9.8" fill="#444" font-weight="bold" text-anchor="middle" letter-spacing="0.5">2020</text>
<polyline points="169.4,1442.0 216.2,1444.6 262.9,1443.5 309.6,1445.3 356.4,1448.3 403.1,1447.9 449.9,1448.6 496.6,1449.7 543.4,1449.0 590.1,1449.0 636.9,1449.7" fill="none" stroke="#7ABA45" stroke-width="2.4" stroke-linejoin="round" stroke-linecap="round"/>
<circle cx="169.4" cy="1442.0" r="2.9" fill="#7ABA45"/>
<circle cx="216.2" cy="1444.6" r="2.9" fill="#7ABA45"/>
<circle cx="262.9" cy="1443.5" r="2.9" fill="#7ABA45"/>
<circle cx="309.6" cy="1445.3" r="2.9" fill="#7ABA45"/>
<circle cx="356.4" cy="1448.3" r="2.9" fill="#7ABA45"/>
<circle cx="403.1" cy="1447.9" r="2.9" fill="#7ABA45"/>
<circle cx="449.9" cy="1448.6" r="2.9" fill="#7ABA45"/>
<circle cx="496.6" cy="1449.7" r="2.9" fill="#7ABA45"/>
<circle cx="543.4" cy="1449.0" r="2.9" fill="#7ABA45"/>
<circle cx="590.1" cy="1449.0" r="2.9" fill="#7ABA45"/>
<circle cx="636.9" cy="1449.7" r="2.9" fill="#7ABA45"/>
<text x="169.6" y="1435.7" font-size="9" fill="#444" font-weight="bold" text-anchor="middle" letter-spacing="0.3">40.9</text>
<text x="216.3" y="1438.3" font-size="9" fill="#444" font-weight="bold" text-anchor="middle" letter-spacing="0.3">40.2</text>
<text x="263.0" y="1437.2" font-size="9" fill="#444" font-weight="bold" text-anchor="middle" letter-spacing="0.3">40.5</text>
<text x="309.8" y="1439.0" font-size="9" fill="#444" font-weight="bold" text-anchor="middle" letter-spacing="0.3">40.0</text>
<text x="356.5" y="1442.0" font-size="9" fill="#444" font-weight="bold" text-anchor="middle" letter-spacing="0.3">39.2</text>
<text x="403.3" y="1441.6" font-size="9" fill="#444" font-weight="bold" text-anchor="middle" letter-spacing="0.3">39.3</text>
<text x="450.0" y="1442.4" font-size="9" fill="#444" font-weight="bold" text-anchor="middle" letter-spacing="0.3">39.1</text>
<text x="496.8" y="1443.5" font-size="9" fill="#444" font-weight="bold" text-anchor="middle" letter-spacing="0.3">38.8</text>
<text x="543.5" y="1442.7" font-size="9" fill="#444" font-weight="bold" text-anchor="middle" letter-spacing="0.3">39.0</text>
<text x="590.3" y="1442.7" font-size="9" fill="#444" font-weight="bold" text-anchor="middle" letter-spacing="0.3">39.0</text>
<text x="637.0" y="1443.5" font-size="9" fill="#444" font-weight="bold" text-anchor="middle" letter-spacing="0.3">38.8</text>
<g class="legend">
<line x1="129.3" y1="1631.2" x2="138.1" y2="1631.2" stroke="#c6c6c6" stroke-width="1.6"/>
<circle cx="133.7" cy="1631.2" r="2.5" fill="#c6c6c6"/>
<text x="142.8" y="1634.4" font-size="9" fill="#d6d6d6" font-weight="normal" text-anchor="start" letter-spacing="0.5">Total</text>
<line x1="183.0" y1="1631.2" x2="191.8" y2="1631.2" stroke="#c6c6c6" stroke-width="1.6"/>
<circle cx="187.4" cy="1631.2" r="2.5" fill="#c6c6c6"/>
<text x="196.5" y="1634.4" font-size="9" fill="#d6d6d6" font-weight="normal" text-anchor="start" letter-spacing="0.5">Milk Products</text>
<line x1="277.4" y1="1631.2" x2="286.2" y2="1631.2" stroke="#c6c6c6" stroke-width="1.6"/>
<circle cx="281.8" cy="1631.2" r="2.5" fill="#c6c6c6"/>
<text x="290.9" y="1634.4" font-size="9" fill="#d6d6d6" font-weight="normal" text-anchor="start" letter-spacing="0.5">Meat Products</text>
<line x1="371.7" y1="1631.2" x2="380.5" y2="1631.2" stroke="#c6c6c6" stroke-width="1.6"/>
<circle cx="376.1" cy="1631.2" r="2.5" fill="#c6c6c6"/>
<text x="385.2" y="1634.4" font-size="9" fill="#d6d6d6" font-weight="normal" text-anchor="start" letter-spacing="0.5">Processed Fish and Seafood</text>
<line x1="129.3" y1="1643.0" x2="138.1" y2="1643.0" stroke="#c6c6c6" stroke-width="1.6"/>
<circle cx="133.7" cy="1643.0" r="2.5" fill="#c6c6c6"/>
<text x="142.8" y="1646.2" font-size="9" fill="#d6d6d6" font-weight="normal" text-anchor="start" letter-spacing="0.5">Vegetables, Fruits and Potatoes</text>
<line x1="304.9" y1="1643.0" x2="313.7" y2="1643.0" stroke="#7ABA45" stroke-width="1.6"/>
<circle cx="309.3" cy="1643.0" r="2.5" fill="#7ABA45"/>
<text x="316.8" y="1646.3" font-size="9.3" fill="#1a1a1a" font-weight="bold" text-anchor="start" letter-spacing="0.13">Bread and Bakery Products</text>
<line x1="458.2" y1="1643.0" x2="467.0" y2="1643.0" stroke="#c6c6c6" stroke-width="1.6"/>
<circle cx="462.6" cy="1643.0" r="2.5" fill="#c6c6c6"/>
<text x="471.7" y="1646.2" font-size="9" fill="#d6d6d6" font-weight="normal" text-anchor="start" letter-spacing="0.5">Pasta and Rice</text>
<line x1="129.3" y1="1654.8" x2="138.1" y2="1654.8" stroke="#c6c6c6" stroke-width="1.6"/>
<circle cx="133.7" cy="1654.8" r="2.5" fill="#c6c6c6"/>
<text x="142.8" y="1658.0" font-size="9" fill="#d6d6d6" font-weight="normal" text-anchor="start" letter-spacing="0.5">Sauces and Condiments</text>
<line x1="271.5" y1="1654.8" x2="280.3" y2="1654.8" stroke="#c6c6c6" stroke-width="1.6"/>
<circle cx="275.9" cy="1654.8" r="2.5" fill="#c6c6c6"/>
<text x="285.0" y="1658.0" font-size="9" fill="#d6d6d6" font-weight="normal" text-anchor="start" letter-spacing="0.5">Convenience</text>
<line x1="359.9" y1="1654.8" x2="368.7" y2="1654.8" stroke="#c6c6c6" stroke-width="1.6"/>
<circle cx="364.3" cy="1654.8" r="2.5" fill="#c6c6c6"/>
<text x="373.4" y="1658.0" font-size="9" fill="#d6d6d6" font-weight="normal" text-anchor="start" letter-spacing="0.5">Breakfast Products</text>
<line x1="475.9" y1="1654.8" x2="484.7" y2="1654.8" stroke="#c6c6c6" stroke-width="1.6"/>
<circle cx="480.3" cy="1654.8" r="2.5" fill="#c6c6c6"/>
<text x="489.4" y="1658.0" font-size="9" fill="#d6d6d6" font-weight="normal" text-anchor="start" letter-spacing="0.5">Confectionery</text>
<line x1="570.3" y1="1654.8" x2="579.1" y2="1654.8" stroke="#c6c6c6" stroke-width="1.6"/>
<circle cx="574.7" cy="1654.8" r="2.5" fill="#c6c6c6"/>
<text x="583.8" y="1658.0" font-size="9" fill="#d6d6d6" font-weight="normal" text-anchor="start" letter-spacing="0.5">Snack Food</text>
<line x1="129.3" y1="1666.6" x2="138.1" y2="1666.6" stroke="#c6c6c6" stroke-width="1.6"/>
<circle cx="133.7" cy="1666.6" r="2.5" fill="#c6c6c6"/>
<text x="142.8" y="1669.8" font-size="9" fill="#d6d6d6" font-weight="normal" text-anchor="start" letter-spacing="0.5">Baby Food</text>
<line x1="210.5" y1="1666.6" x2="219.3" y2="1666.6" stroke="#c6c6c6" stroke-width="1.6"/>
<circle cx="214.9" cy="1666.6" r="2.5" fill="#c6c6c6"/>
<text x="224.0" y="1669.8" font-size="9" fill="#d6d6d6" font-weight="normal" text-anchor="start" letter-spacing="0.5">Pet Food</text>
</g>
</g>
<g class="line-chart" filter="url(#soft)">
<line x1="810" y1="1410.1" x2="1317" y2="1410.1" stroke="#f6f6f6" stroke-width="1"/>
<text x="798.2" y="1413.5" font-size="9.5" fill="#5e5e5e" font-weight="normal" text-anchor="end" letter-spacing="0.4">8.00</text>
<line x1="810" y1="1456.5" x2="1317" y2="1456.5" stroke="#f6f6f6" stroke-width="1"/>
<text x="798.2" y="1459.9" font-size="9.5" fill="#5e5e5e" font-weight="normal" text-anchor="end" letter-spacing="0.4">6.00</text>
<line x1="810" y1="1502.8" x2="1317" y2="1502.8" stroke="#f6f6f6" stroke-width="1"/>
<text x="798.2" y="1506.2" font-size="9.5" fill="#5e5e5e" font-weight="normal" text-anchor="end" letter-spacing="0.4">4.00</text>
<line x1="810" y1="1549.2" x2="1317" y2="1549.2" stroke="#f6f6f6" stroke-width="1"/>
<text x="798.2" y="1552.6" font-size="9.5" fill="#5e5e5e" font-weight="normal" text-anchor="end" letter-spacing="0.4">2.00</text>
<line x1="810" y1="1595.5" x2="1317" y2="1595.5" stroke="#f6f6f6" stroke-width="1"/>
<text x="798.2" y="1598.9" font-size="9.5" fill="#5e5e5e" font-weight="normal" text-anchor="end" letter-spacing="0.4">0</text>
<text transform="translate(771.0 1502.5) rotate(-90)" font-size="9" fill="#555" text-anchor="middle" letter-spacing="0.5">in US$</text>
<line x1="810" y1="1595.2" x2="1317" y2="1595.2" stroke="#b9c2c6" stroke-width="1.8"/>
<text x="834.0" y="1609.4" font-size="9.8" fill="#444" font-weight="bold" text-anchor="middle" letter-spacing="0.5">2010</text>
<text x="880.0" y="1609.4" font-size="9.8" fill="#444" font-weight="bold" text-anchor="middle" letter-spacing="0.5">2011</text>
<text x="925.9" y="1609.4" font-size="9.8" fill="#444" font-weight="bold" text-anchor="middle" letter-spacing="0.5">2012</text>
<text x="971.9" y="1609.4" font-size="9.8" fill="#444" font-weight="bold" text-anchor="middle" letter-spacing="0.5">2013</text>
<text x="1017.8" y="1609.4" font-size="9.8" fill="#444" font-weight="bold" text-anchor="middle" letter-spacing="0.5">2014</text>
<text x="1063.8" y="1609.4" font-size="9.8" fill="#444" font-weight="bold" text-anchor="middle" letter-spacing="0.5">2015</text>
<text x="1109.8" y="1609.4" font-size="9.8" fill="#444" font-weight="bold" text-anchor="middle" letter-spacing="0.5">2016</text>
<text x="1155.7" y="1609.4" font-size="9.8" fill="#444" font-weight="bold" text-anchor="middle" letter-spacing="0.5">2017</text>
<text x="1201.7" y="1609.4" font-size="9.8" fill="#444" font-weight="bold" text-anchor="middle" letter-spacing="0.5">2018</text>
<text x="1247.6" y="1609.4" font-size="9.8" fill="#444" font-weight="bold" text-anchor="middle" letter-spacing="0.5">2019</text>
<text x="1293.5" y="1609.4" font-size="9.8" fill="#444" font-weight="bold" text-anchor="middle" letter-spacing="0.5">2020</text>
<polyline points="833.8,1492.4 879.8,1489.4 925.7,1486.6 971.6,1491.0 1017.6,1489.4 1063.5,1489.6 1109.5,1490.5 1155.5,1490.1 1201.4,1487.5 1247.3,1487.3 1293.3,1486.1" fill="none" stroke="#5AAEE2" stroke-width="2.4" stroke-linejoin="round" stroke-linecap="round"/>
<circle cx="833.8" cy="1492.4" r="2.9" fill="#5AAEE2"/>
<circle cx="879.8" cy="1489.4" r="2.9" fill="#5AAEE2"/>
<circle cx="925.7" cy="1486.6" r="2.9" fill="#5AAEE2"/>
<circle cx="971.6" cy="1491.0" r="2.9" fill="#5AAEE2"/>
<circle cx="1017.6" cy="1489.4" r="2.9" fill="#5AAEE2"/>
<circle cx="1063.5" cy="1489.6" r="2.9" fill="#5AAEE2"/>
<circle cx="1109.5" cy="1490.5" r="2.9" fill="#5AAEE2"/>
<circle cx="1155.5" cy="1490.1" r="2.9" fill="#5AAEE2"/>
<circle cx="1201.4" cy="1487.5" r="2.9" fill="#5AAEE2"/>
<circle cx="1247.3" cy="1487.3" r="2.9" fill="#5AAEE2"/>
<circle cx="1293.3" cy="1486.1" r="2.9" fill="#5AAEE2"/>
<polyline points="833.8,1477.3 879.8,1471.5 925.7,1466.9 971.6,1477.3 1017.6,1460.6 1063.5,1458.3 1109.5,1453.9 1155.5,1450.4 1201.4,1446.7 1247.3,1451.1 1293.3,1446.5" fill="none" stroke="#7ABA45" stroke-width="2.4" stroke-linejoin="round" stroke-linecap="round"/>
<circle cx="833.8" cy="1477.3" r="2.9" fill="#7ABA45"/>
<circle cx="879.8" cy="1471.5" r="2.9" fill="#7ABA45"/>
<circle cx="925.7" cy="1466.9" r="2.9" fill="#7ABA45"/>
<circle cx="971.6" cy="1477.3" r="2.9" fill="#7ABA45"/>
<circle cx="1017.6" cy="1460.6" r="2.9" fill="#7ABA45"/>
<circle cx="1063.5" cy="1458.3" r="2.9" fill="#7ABA45"/>
<circle cx="1109.5" cy="1453.9" r="2.9" fill="#7ABA45"/>
<circle cx="1155.5" cy="1450.4" r="2.9" fill="#7ABA45"/>
<circle cx="1201.4" cy="1446.7" r="2.9" fill="#7ABA45"/>
<circle cx="1247.3" cy="1451.1" r="2.9" fill="#7ABA45"/>
<circle cx="1293.3" cy="1446.5" r="2.9" fill="#7ABA45"/>
<text x="833.8" y="1486.1" font-size="9" fill="#444" font-weight="bold" text-anchor="middle" letter-spacing="0.0">4.45</text>
<text x="879.8" y="1483.1" font-size="9" fill="#444" font-weight="bold" text-anchor="middle" letter-spacing="0.0">4.58</text>
<text x="925.7" y="1480.3" font-size="9" fill="#444" font-weight="bold" text-anchor="middle" letter-spacing="0.0">4.70</text>
<text x="971.6" y="1484.7" font-size="9" fill="#444" font-weight="bold" text-anchor="middle" letter-spacing="0.0">4.51</text>
<text x="1017.6" y="1483.1" font-size="9" fill="#444" font-weight="bold" text-anchor="middle" letter-spacing="0.0">4.58</text>
<text x="1063.5" y="1483.3" font-size="9" fill="#444" font-weight="bold" text-anchor="middle" letter-spacing="0.0">4.57</text>
<text x="1109.5" y="1484.2" font-size="9" fill="#444" font-weight="bold" text-anchor="middle" letter-spacing="0.0">4.53</text>
<text x="1155.5" y="1483.8" font-size="9" fill="#444" font-weight="bold" text-anchor="middle" letter-spacing="0.0">4.55</text>
<text x="1201.4" y="1481.2" font-size="9" fill="#444" font-weight="bold" text-anchor="middle" letter-spacing="0.0">4.66</text>
<text x="1247.3" y="1481.0" font-size="9" fill="#444" font-weight="bold" text-anchor="middle" letter-spacing="0.0">4.67</text>
<text x="1293.3" y="1479.8" font-size="9" fill="#444" font-weight="bold" text-anchor="middle" letter-spacing="0.0">4.72</text>
<text x="833.8" y="1471.0" font-size="9" fill="#444" font-weight="bold" text-anchor="middle" letter-spacing="0.0">5.10</text>
<text x="879.8" y="1465.2" font-size="9" fill="#444" font-weight="bold" text-anchor="middle" letter-spacing="0.0">5.35</text>
<text x="925.7" y="1460.6" font-size="9" fill="#444" font-weight="bold" text-anchor="middle" letter-spacing="0.0">5.55</text>
<text x="971.6" y="1471.0" font-size="9" fill="#444" font-weight="bold" text-anchor="middle" letter-spacing="0.0">5.10</text>
<text x="1017.6" y="1454.3" font-size="9" fill="#444" font-weight="bold" text-anchor="middle" letter-spacing="0.0">5.82</text>
<text x="1063.5" y="1452.0" font-size="9" fill="#444" font-weight="bold" text-anchor="middle" letter-spacing="0.0">5.92</text>
<text x="1109.5" y="1447.6" font-size="9" fill="#444" font-weight="bold" text-anchor="middle" letter-spacing="0.0">6.11</text>
<text x="1155.5" y="1444.1" font-size="9" fill="#444" font-weight="bold" text-anchor="middle" letter-spacing="0.0">6.26</text>
<text x="1201.4" y="1440.4" font-size="9" fill="#444" font-weight="bold" text-anchor="middle" letter-spacing="0.0">6.42</text>
<text x="1247.3" y="1444.8" font-size="9" fill="#444" font-weight="bold" text-anchor="middle" letter-spacing="0.0">6.23</text>
<text x="1293.3" y="1440.2" font-size="9" fill="#444" font-weight="bold" text-anchor="middle" letter-spacing="0.0">6.43</text>
<g class="legend">
<line x1="785.4" y1="1632.6" x2="794.2" y2="1632.6" stroke="#5AAEE2" stroke-width="1.6"/>
<circle cx="789.8" cy="1632.6" r="2.5" fill="#5AAEE2"/>
<text x="798.9" y="1636.0" font-size="9.6" fill="#1a1a1a" font-weight="bold" text-anchor="start" letter-spacing="0.45">Total</text>
<line x1="839.1" y1="1632.6" x2="847.9" y2="1632.6" stroke="#c6c6c6" stroke-width="1.6"/>
<circle cx="843.5" cy="1632.6" r="2.5" fill="#c6c6c6"/>
<text x="852.6" y="1635.8" font-size="9" fill="#d6d6d6" font-weight="normal" text-anchor="start" letter-spacing="0.5">Milk Products</text>
<line x1="933.5" y1="1632.6" x2="942.3" y2="1632.6" stroke="#c6c6c6" stroke-width="1.6"/>
<circle cx="937.9" cy="1632.6" r="2.5" fill="#c6c6c6"/>
<text x="947.0" y="1635.8" font-size="9" fill="#d6d6d6" font-weight="normal" text-anchor="start" letter-spacing="0.5">Meat Products</text>
<line x1="1027.8" y1="1632.6" x2="1036.6" y2="1632.6" stroke="#c6c6c6" stroke-width="1.6"/>
<circle cx="1032.2" cy="1632.6" r="2.5" fill="#c6c6c6"/>
<text x="1041.3" y="1635.8" font-size="9" fill="#d6d6d6" font-weight="normal" text-anchor="start" letter-spacing="0.5">Processed Fish and Seafood</text>
<line x1="785.4" y1="1644.4" x2="794.2" y2="1644.4" stroke="#c6c6c6" stroke-width="1.6"/>
<circle cx="789.8" cy="1644.4" r="2.5" fill="#c6c6c6"/>
<text x="798.9" y="1647.6" font-size="9" fill="#d6d6d6" font-weight="normal" text-anchor="start" letter-spacing="0.5">Vegetables, Fruits and Potatoes</text>
<line x1="961.0" y1="1644.4" x2="969.8" y2="1644.4" stroke="#7ABA45" stroke-width="1.6"/>
<circle cx="965.4" cy="1644.4" r="2.5" fill="#7ABA45"/>
<text x="972.9" y="1647.7" font-size="9.3" fill="#1a1a1a" font-weight="bold" text-anchor="start" letter-spacing="0.13">Bread and Bakery Products</text>
<line x1="1114.3" y1="1644.4" x2="1123.1" y2="1644.4" stroke="#c6c6c6" stroke-width="1.6"/>
<circle cx="1118.7" cy="1644.4" r="2.5" fill="#c6c6c6"/>
<text x="1127.8" y="1647.6" font-size="9" fill="#d6d6d6" font-weight="normal" text-anchor="start" letter-spacing="0.5">Pasta and Rice</text>
<line x1="785.4" y1="1656.2" x2="794.2" y2="1656.2" stroke="#c6c6c6" stroke-width="1.6"/>
<circle cx="789.8" cy="1656.2" r="2.5" fill="#c6c6c6"/>
<text x="798.9" y="1659.4" font-size="9" fill="#d6d6d6" font-weight="normal" text-anchor="start" letter-spacing="0.5">Sauces and Condiments</text>
<line x1="927.6" y1="1656.2" x2="936.4" y2="1656.2" stroke="#c6c6c6" stroke-width="1.6"/>
<circle cx="932.0" cy="1656.2" r="2.5" fill="#c6c6c6"/>
<text x="941.1" y="1659.4" font-size="9" fill="#d6d6d6" font-weight="normal" text-anchor="start" letter-spacing="0.5">Convenience</text>
<line x1="1016.0" y1="1656.2" x2="1024.8" y2="1656.2" stroke="#c6c6c6" stroke-width="1.6"/>
<circle cx="1020.4" cy="1656.2" r="2.5" fill="#c6c6c6"/>
<text x="1029.5" y="1659.4" font-size="9" fill="#d6d6d6" font-weight="normal" text-anchor="start" letter-spacing="0.5">Breakfast Products</text>
<line x1="1132.0" y1="1656.2" x2="1140.8" y2="1656.2" stroke="#c6c6c6" stroke-width="1.6"/>
<circle cx="1136.4" cy="1656.2" r="2.5" fill="#c6c6c6"/>
<text x="1145.5" y="1659.4" font-size="9" fill="#d6d6d6" font-weight="normal" text-anchor="start" letter-spacing="0.5">Confectionery</text>
<line x1="1226.4" y1="1656.2" x2="1235.2" y2="1656.2" stroke="#c6c6c6" stroke-width="1.6"/>
<circle cx="1230.8" cy="1656.2" r="2.5" fill="#c6c6c6"/>
<text x="1239.9" y="1659.4" font-size="9" fill="#d6d6d6" font-weight="normal" text-anchor="start" letter-spacing="0.5">Snack Food</text>
<line x1="785.4" y1="1668.0" x2="794.2" y2="1668.0" stroke="#c6c6c6" stroke-width="1.6"/>
<circle cx="789.8" cy="1668.0" r="2.5" fill="#c6c6c6"/>
<text x="798.9" y="1671.2" font-size="9" fill="#d6d6d6" font-weight="normal" text-anchor="start" letter-spacing="0.5">Baby Food</text>
<line x1="866.6" y1="1668.0" x2="875.4" y2="1668.0" stroke="#c6c6c6" stroke-width="1.6"/>
<circle cx="871.0" cy="1668.0" r="2.5" fill="#c6c6c6"/>
<text x="880.1" y="1671.2" font-size="9" fill="#d6d6d6" font-weight="normal" text-anchor="start" letter-spacing="0.5">Pet Food</text>
</g>
</g>
</svg>
</body>
</html>
